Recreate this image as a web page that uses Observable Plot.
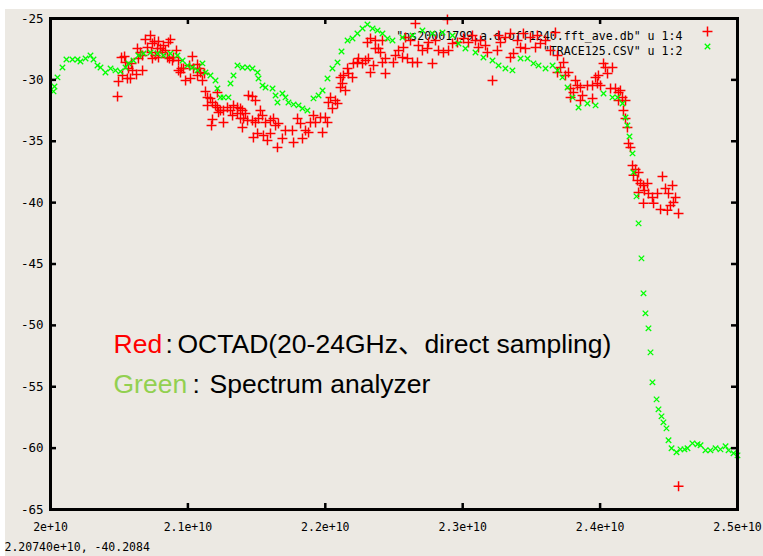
<!DOCTYPE html>
<html>
<head>
<meta charset="utf-8">
<script src="https://cdn.jsdelivr.net/npm/d3@7"></script>
<script src="https://cdn.jsdelivr.net/npm/@observablehq/plot@0.6"></script>
<style>
  html, body { margin: 0; padding: 0; background: #fff; }
  #chart { width: 763px; height: 556px; }
</style>
</head>
<body>
<div id="chart"></div>
<script>
// OCTAD direct-sampling spectrum (red) vs spectrum analyzer trace (green), 20–25 GHz.
// Frequencies in GHz, levels in dB.

const redFreqGHz = [
  20.488, 20.495, 20.517, 20.539, 20.524, 20.546, 20.560, 20.568, 20.582, 20.590,
  20.597, 20.626, 20.633, 20.640, 20.655, 20.670, 20.670, 20.691, 20.706, 20.728,
  20.735, 20.742, 20.742, 20.757, 20.764, 20.779, 20.786, 20.786, 20.801, 20.815,
  20.822, 20.837, 20.852, 20.859, 20.866, 20.873, 20.888, 20.895, 20.917, 20.932,
  20.932, 20.946, 20.953, 20.968, 20.983, 21.012, 21.019, 21.033, 21.041, 21.070,
  21.070, 21.084, 21.092, 21.106, 21.121, 21.128, 21.143, 21.164, 21.143, 21.179,
  21.201, 21.215, 21.215, 21.223, 21.179, 21.172, 21.237, 21.259, 21.259, 21.288,
  21.310, 21.325, 21.332, 21.361, 21.361, 21.383, 21.383, 21.397, 21.397, 21.405,
  21.419, 21.434, 21.441, 21.470, 21.470, 21.477, 21.492, 21.492, 21.507, 21.514,
  21.528, 21.543, 21.550, 21.565, 21.579, 21.601, 21.601, 21.623, 21.638, 21.652,
  21.659, 21.688, 21.710, 21.761, 21.769, 21.798, 21.820, 21.834, 21.856, 21.878,
  21.892, 21.914, 21.929, 21.965, 21.980, 22.001, 22.016, 22.023, 22.038, 22.052,
  22.074, 22.089, 22.111, 22.111, 22.125, 22.132, 22.147, 22.162, 22.169, 22.198,
  22.205, 22.234, 22.242, 22.271, 22.293, 22.307, 22.314, 22.329, 22.329, 22.351,
  22.365, 22.365, 22.387, 22.402, 22.416, 22.416, 22.438, 22.438, 22.496, 22.511,
  22.533, 22.562, 22.569, 22.584, 22.598, 22.620, 22.635, 22.656, 22.671, 22.678,
  22.707, 22.744, 22.751, 22.780, 22.802, 22.824, 22.860, 22.889, 22.897, 22.926,
  22.962, 23.006, 23.042, 23.071, 23.093, 23.115, 23.130, 23.166, 23.180, 23.217,
  23.253, 23.261, 23.275, 23.311, 23.348, 23.348, 23.370, 23.399, 23.421, 23.442,
  23.457, 23.493, 23.530, 23.544, 23.566, 23.603, 23.639, 23.675, 23.690, 23.690,
  23.712, 23.734, 23.748, 23.770, 23.785, 23.785, 23.806, 23.821, 23.835, 23.857,
  23.857, 23.872, 23.908, 23.945, 23.945, 23.967, 23.981, 23.988, 24.003, 24.025,
  24.039, 24.054, 24.076, 24.090, 24.112, 24.134, 24.134, 24.148, 24.163, 24.170,
  24.185, 24.185, 24.199, 24.207, 24.221, 24.236, 24.258, 24.243, 24.272, 24.280,
  24.280, 24.294, 24.316, 24.316, 24.323, 24.345, 24.352, 24.381, 24.389, 24.418,
  24.440, 24.454, 24.476, 24.490, 24.498, 24.512, 24.527, 24.534, 24.549, 24.571,
  24.571
];
const redLevelDb = [
  -31.35, -30.13, -28.18, -28.09, -29.64, -28.58, -29.89, -29.07, -29.89, -28.66,
  -29.23, -29.56, -27.44, -28.26, -27.77, -29.23, -28.01, -26.71, -27.36, -26.38,
  -27.77, -27.04, -28.26, -26.87, -28.01, -27.44, -26.87, -28.18, -27.44, -27.77,
  -27.20, -27.61, -28.18, -26.95, -28.26, -26.71, -28.42, -28.18, -27.61, -28.42,
  -29.23, -29.40, -29.07, -29.07, -30.05, -28.83, -29.89, -28.09, -29.07, -28.75,
  -29.64, -29.07, -29.40, -30.05, -29.48, -30.94, -31.43, -31.51, -32.08, -31.84,
  -32.08, -31.03, -32.25, -32.65, -33.22, -33.71, -32.49, -33.47, -32.49, -32.25,
  -32.49, -32.90, -32.08, -32.25, -32.74, -32.33, -33.14, -32.49, -33.88, -33.14,
  -32.74, -33.31, -31.27, -31.35, -33.31, -34.69, -31.68, -33.47, -34.36, -33.14,
  -32.49, -32.90, -34.53, -33.47, -34.93, -33.31, -34.36, -33.14, -33.71, -35.50,
  -33.55, -34.77, -34.12, -34.12, -35.10, -33.14, -33.55, -34.77, -34.12, -34.28,
  -33.47, -32.90, -33.47, -33.06, -34.28, -33.06, -33.47, -31.84, -31.43, -32.33,
  -31.68, -31.92, -30.62, -29.80, -30.29, -29.64, -30.86, -29.07, -29.48, -29.80,
  -28.66, -28.58, -28.26, -28.66, -28.42, -26.95, -28.26, -26.63, -29.40, -28.83,
  -27.44, -26.79, -27.44, -27.77, -28.58, -26.79, -28.26, -29.48, -28.58, -28.01,
  -27.61, -28.18, -27.36, -26.55, -28.26, -26.79, -28.58, -25.41, -28.58, -27.20,
  -27.61, -27.44, -26.95, -28.66, -26.79, -27.61, -27.77, -25.08, -27.61, -27.04,
  -26.95, -26.63, -26.95, -26.38, -26.79, -27.36, -26.79, -27.20, -27.77, -30.05,
  -27.61, -26.38, -26.95, -26.55, -28.18, -26.22, -27.85, -26.79, -27.36, -26.22,
  -27.44, -26.55, -27.36, -26.38, -27.04, -26.79, -27.61, -26.14, -28.01, -29.40,
  -28.99, -28.58, -29.64, -29.40, -30.70, -31.43, -31.03, -30.05, -30.46, -30.62,
  -31.68, -31.27, -30.46, -30.46, -31.51, -29.80, -30.29, -29.64, -30.46, -28.66,
  -28.99, -29.48, -30.70, -28.99, -30.70, -31.03, -31.68, -30.86, -31.43, -32.49,
  -31.68, -33.14, -33.88, -35.18, -35.50, -36.97, -37.30, -37.78, -38.19, -37.54,
  -39.17, -38.44, -38.60, -40.06, -39.01, -38.44, -39.25, -39.58, -40.06, -39.25,
  -40.55, -37.87, -38.84, -40.63, -39.25, -40.23, -38.60, -39.98, -39.58, -40.88,
  -63.11
];

const greenFreqGHz = [
  20.022, 20.029, 20.051, 20.087, 20.116, 20.160, 20.197, 20.218, 20.255, 20.291,
  20.313, 20.342, 20.364, 20.400, 20.437, 20.473, 20.509, 20.546, 20.568, 20.604,
  20.640, 20.677, 20.728, 20.779, 20.822, 20.873, 20.924, 20.961, 20.997, 21.033,
  21.070, 21.106, 21.128, 21.164, 21.201, 21.215, 21.237, 21.259, 21.295, 21.310,
  21.332, 21.361, 21.397, 21.434, 21.470, 21.507, 21.514, 21.543, 21.565, 21.616,
  21.638, 21.652, 21.688, 21.710, 21.732, 21.769, 21.805, 21.834, 21.870, 21.914,
  21.951, 21.980, 22.016, 22.052, 22.089, 22.118, 22.162, 22.198, 22.234, 22.271,
  22.307, 22.344, 22.380, 22.416, 22.453, 22.489, 22.562, 22.635, 22.707, 22.780,
  22.853, 22.926, 22.969, 23.020, 23.093, 23.151, 23.217, 23.261, 23.311, 23.362,
  23.421, 23.472, 23.515, 23.552, 23.603, 23.654, 23.690, 23.726, 23.763, 23.799,
  23.843, 23.908, 23.967, 24.025, 24.090, 24.127, 24.163, 24.185, 24.199, 24.214,
  24.236, 24.243, 24.265, 24.280, 24.301, 24.316, 24.330, 24.352, 24.367, 24.381,
  24.411, 24.425, 24.447, 24.461, 24.483, 24.498, 24.520, 24.556, 24.585, 24.614,
  24.636, 24.672, 24.709, 24.731, 24.767, 24.803, 24.840, 24.876, 24.913, 24.935,
  24.971, 25.000
];
const greenLevelDb = [
  -30.94, -30.54, -29.80, -28.99, -28.34, -28.34, -28.34, -28.50, -28.26, -28.01,
  -28.34, -28.83, -28.99, -29.40, -29.07, -29.23, -29.32, -28.99, -28.66, -28.42,
  -28.01, -27.85, -27.77, -27.85, -28.01, -27.85, -28.01, -28.42, -28.83, -28.99,
  -29.23, -28.66, -29.40, -29.64, -30.05, -30.70, -31.43, -31.43, -31.43, -30.29,
  -29.64, -28.83, -28.99, -28.99, -29.07, -29.40, -29.89, -30.46, -30.62, -30.70,
  -31.27, -31.84, -31.11, -31.43, -31.84, -32.00, -32.08, -32.33, -32.49, -31.51,
  -31.27, -30.86, -29.89, -29.07, -28.58, -27.69, -26.79, -26.63, -26.22, -25.81,
  -25.49, -25.81, -25.98, -26.22, -26.63, -26.79, -26.55, -26.38, -25.98, -26.22,
  -26.14, -26.38, -27.04, -27.44, -27.77, -28.18, -28.42, -28.83, -29.07, -29.23,
  -28.26, -28.26, -28.66, -28.83, -29.07, -28.83, -29.23, -29.80, -30.62, -31.43,
  -32.25, -31.92, -32.08, -31.11, -31.43, -31.43, -31.92, -33.06, -33.71, -34.61,
  -35.99, -37.54, -39.49, -41.69, -44.54, -47.39, -49.02, -50.24, -52.20, -54.64,
  -56.03, -56.84, -57.41, -57.90, -58.39, -59.36, -60.01, -60.34, -60.10, -60.10,
  -60.01, -59.61, -59.69, -59.77, -60.18, -60.18, -60.01, -60.10, -59.85, -60.18,
  -60.42, -60.59
];

const xTickValues = [20, 21, 22, 23, 24, 25];
const xTickLabels = ["2e+10", "2.1e+10", "2.2e+10", "2.3e+10", "2.4e+10", "2.5e+10"];
const yTickValues = [-25, -30, -35, -40, -45, -50, -55, -60, -65];
const yTickLabels = ["-25", "-30", "-35", "-40", "-45", "-50", "-55", "-60", "-65"];

const keyLabels = ['"ns20001799.a.d.off1240.fft_ave.db" u 1:4', '"TRACE125.CSV" u 1:2'];
const noteRed = ["Red", ":", "OCTAD(20-24GHz、direct sampling)"];
const noteGreen = ["Green", ":", "Spectrum analyzer"];
const cursorReadout = "2.20740e+10, -40.2084";

const red = redFreqGHz.map((f, i) => ({f, db: redLevelDb[i]}));
const green = greenFreqGHz.map((f, i) => ({f, db: greenLevelDb[i]}));

const mono = "'DejaVu Sans Mono', monospace";
const sans = "'Liberation Sans', Arial, 'Noto Sans CJK JP', sans-serif";
const RED = "#ff0000", GREEN = "#00ff00", NOTE_GREEN = "#92d050";
const plusStyle = {symbol: "plus", r: 3.3, stroke: RED, strokeWidth: 1.5};
const timesStyle = {symbol: "times", r: 2.6, stroke: GREEN, strokeWidth: 1.3};

const W = 763, H = 556, ML = 50, MR = 26, MT = 18, MB = 47;
const frameW = W - ML - MR, frameH = H - MT - MB, tick = 6;

const chart = Plot.plot({
  width: W, height: H,
  marginLeft: ML, marginRight: MR, marginTop: MT, marginBottom: MB,
  style: {
    background: "linear-gradient(to bottom, #fff 9px, transparent 9px), linear-gradient(to right, #fff 5px, #ece9e3 5px)",
    fontFamily: mono, fontSize: "12px", color: "#000", overflow: "visible"
  },
  x: {domain: [20, 25], label: null},
  y: {domain: [-65, -25], label: null},
  marks: [
    // key text (points are drawn over it)
    Plot.text([keyLabels[0]], {frameAnchor: "top-right", textAnchor: "end", dx: -55, dy: 13, fontSize: 11.6, fontFamily: mono, fill: "#000"}),
    Plot.text([keyLabels[1]], {frameAnchor: "top-right", textAnchor: "end", dx: -55, dy: 28, fontSize: 11.6, fontFamily: mono, fill: "#000"}),
    // data
    Plot.dot(red, {x: "f", y: "db", ...plusStyle}),
    Plot.dot(green, {x: "f", y: "db", ...timesStyle}),
    // key symbols
    Plot.dot([keyLabels[0]], {x: null, y: null, frameAnchor: "top-right", dx: -30, dy: 13, ...plusStyle}),
    Plot.dot([keyLabels[1]], {x: null, y: null, frameAnchor: "top-right", dx: -30, dy: 28, ...timesStyle}),
    // border and inward ticks on all four sides
    Plot.frame({stroke: "#000", strokeWidth: 3}),
    Plot.tickX(xTickValues, {x: d => d, insetTop: frameH - tick, stroke: "#000", strokeWidth: 2.5}),
    Plot.tickX(xTickValues, {x: d => d, insetBottom: frameH - tick, stroke: "#000", strokeWidth: 2.5}),
    Plot.tickY(yTickValues, {y: d => d, insetRight: frameW - tick, stroke: "#000", strokeWidth: 2.5}),
    Plot.tickY(yTickValues, {y: d => d, insetLeft: frameW - tick, stroke: "#000", strokeWidth: 2.5}),
    Plot.axisX(xTickValues, {tickFormat: d => xTickLabels[xTickValues.indexOf(d)], tickSize: 0, tickPadding: 13, fontSize: 11.5, fontFamily: mono, label: null}),
    Plot.axisY(yTickValues, {tickFormat: d => yTickLabels[yTickValues.indexOf(d)], tickSize: 0, tickPadding: 7, fontSize: 12.5, fontFamily: mono, label: null}),
    // annotation
    Plot.text([noteRed[0]], {frameAnchor: "top-left", textAnchor: "start", lineAnchor: "bottom", dx: 63, dy: 334, fontSize: 26.5, fontFamily: sans, fill: RED}),
    Plot.text([noteRed[1]], {frameAnchor: "top-left", textAnchor: "start", lineAnchor: "bottom", dx: 115, dy: 334, fontSize: 26.5, fontFamily: sans, fill: "#000"}),
    Plot.text([noteRed[2]], {frameAnchor: "top-left", textAnchor: "start", lineAnchor: "bottom", dx: 127, dy: 334, fontSize: 26.5, fontFamily: sans, fill: "#000"}),
    Plot.text([noteGreen[0]], {frameAnchor: "top-left", textAnchor: "start", lineAnchor: "bottom", dx: 63, dy: 374, fontSize: 26.5, fontFamily: sans, fill: NOTE_GREEN}),
    Plot.text([noteGreen[1]], {frameAnchor: "top-left", textAnchor: "start", lineAnchor: "bottom", dx: 142, dy: 374, fontSize: 26.5, fontFamily: sans, fill: "#000"}),
    Plot.text([noteGreen[2]], {frameAnchor: "top-left", textAnchor: "start", lineAnchor: "bottom", dx: 159, dy: 374, fontSize: 26.5, fontFamily: sans, fill: "#000"}),
    // cursor readout under the plot
    Plot.text([cursorReadout], {frameAnchor: "bottom-left", textAnchor: "start", dx: -46, dy: 41, fontSize: 11.5, fontFamily: mono, fill: "#000"})
  ]
});

document.getElementById("chart").appendChild(chart);
</script>
</body>
</html>
